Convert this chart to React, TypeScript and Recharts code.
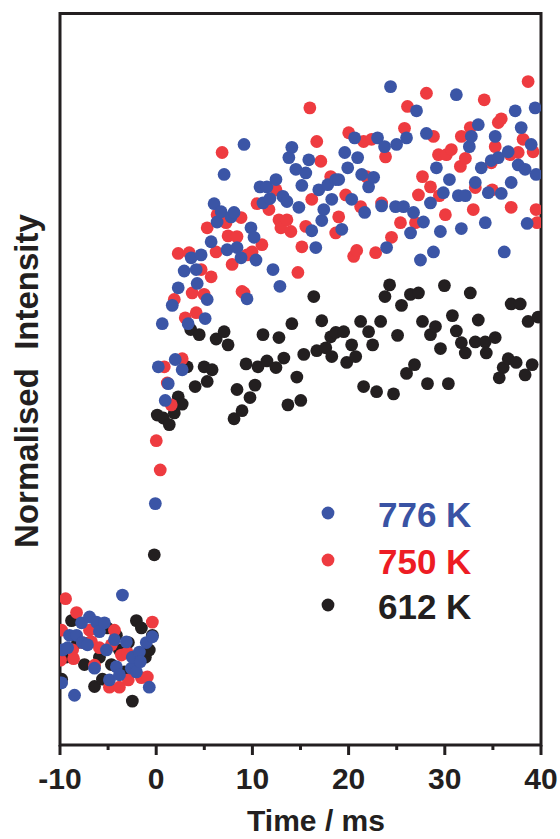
import React from 'react';
import { ScatterChart, Scatter, XAxis, YAxis, ReferenceArea, Legend } from 'recharts';

// Time (ms), normalised intensity
const K612: [number, number][] = [
  [-9.83,0.09],[-9.42,0.12],[-8.80,0.17],[-8.18,0.14],[-7.46,0.11],[-6.93,0.14],[-6.41,0.08],[-5.90,0.12],[-5.59,0.09],[-5.07,0.16],[-4.66,0.11],[-4.14,0.15],[-3.83,0.13],[-3.31,0.10],[-2.89,0.14],[-2.48,0.06],[-2.06,0.17],[-1.54,0.16],[-1.13,0.12],[-0.72,0.13],[-0.40,0.15],[-0.20,0.26],
  [0.11,0.451],[0.74,0.447],[1.36,0.438],[1.88,0.454],[2.29,0.476],[2.70,0.466],[3.22,0.517],[3.59,0.568],[4.05,0.490],[4.47,0.561],[4.98,0.517],[5.30,0.497],[5.81,0.513],[6.23,0.555],[7.06,0.565],[7.47,0.547],
  [8.09,0.446],[8.40,0.486],[8.92,0.457],[9.34,0.521],[9.75,0.475],[10.27,0.492],[10.58,0.517],[11.10,0.561],[11.51,0.525],[12.45,0.516],[12.76,0.557],[13.27,0.529],[13.69,0.465],[14.10,0.576],[14.62,0.503],[15.03,0.471],[15.34,0.534],
  [16.38,0.613],[16.69,0.539],[17.21,0.580],[17.63,0.543],[18.14,0.558],[18.25,0.531],[18.67,0.564],[19.49,0.565],[19.80,0.523],[20.32,0.547],[20.74,0.531],[21.25,0.579],[21.56,0.490],[22.08,0.565],[22.50,0.547],[22.91,0.483],
  [23.33,0.579],[23.78,0.613],[24.26,0.629],[24.67,0.480],[25.09,0.560],[25.50,0.601],[26.02,0.508],[26.43,0.616],[26.85,0.520],[27.26,0.618],[27.68,0.579],[28.20,0.494],[28.51,0.561],[29.03,0.572],[29.55,0.542],[29.96,0.628],
  [30.37,0.494],[30.79,0.587],[31.20,0.566],[31.72,0.550],[32.13,0.536],[32.65,0.618],[33.17,0.551],[33.48,0.581],[34.20,0.551],[34.31,0.536],[35.24,0.557],[35.66,0.502],[36.07,0.516],[36.59,0.528],[36.90,0.603],[37.42,0.523],
  [37.84,0.603],[38.35,0.506],[38.66,0.579],[39.08,0.520],[39.70,0.585]
];

const K750: [number, number][] = [
  [-9.95,0.116],[-9.83,0.157],[-9.42,0.200],[-8.69,0.130],[-8.59,0.118],[-8.28,0.181],[-7.66,0.140],[-6.93,0.157],[-6.73,0.141],[-6.41,0.109],[-5.90,0.133],[-4.86,0.079],[-4.66,0.137],[-4.34,0.157],[-3.83,0.079],[-3.62,0.123],[-3.00,0.126],[-2.90,0.089],[-1.54,0.092],[-0.92,0.093],[-0.40,0.168],
  [0.01,0.416],[0.42,0.376],[0.84,0.517],[1.15,0.495],[1.56,0.465],[1.88,0.609],[2.29,0.672],[2.70,0.528],[3.02,0.584],[3.43,0.673],[3.74,0.618],[4.16,0.591],[4.67,0.650],[4.98,0.616],[5.30,0.707],[5.71,0.640],
  [6.23,0.674],[6.33,0.725],[6.85,0.810],[7.26,0.714],[7.47,0.696],[7.89,0.657],[8.40,0.695],[8.82,0.721],[8.92,0.620],[9.13,0.618],[9.44,0.670],[9.96,0.674],[10.48,0.740],[10.99,0.684],[11.72,0.732],[12.45,0.759],
  [12.76,0.718],[12.96,0.707],[13.59,0.718],[14.00,0.702],[14.73,0.646],[15.14,0.681],[15.55,0.709],[15.97,0.871],[16.17,0.746],[16.69,0.825],[17.11,0.798],[18.14,0.777],[18.66,0.700],[18.97,0.722],[19.70,0.752],[20.01,0.837],
  [20.53,0.668],[20.84,0.676],[21.25,0.736],[21.56,0.825],[21.87,0.777],[22.39,0.828],[22.81,0.673],[23.43,0.741],[23.84,0.804],[24.46,0.694],[25.39,0.714],[25.81,0.843],[26.12,0.873],[26.95,0.714],[27.26,0.752],[27.68,0.777],
  [28.09,0.891],[28.51,0.763],[28.82,0.832],[29.34,0.807],[29.44,0.751],[30.06,0.725],[30.17,0.807],[30.68,0.814],[31.62,0.791],[31.72,0.832],[32.14,0.802],[32.65,0.844],[32.96,0.732],[33.17,0.762],[34.10,0.882],[34.83,0.796],
  [34.93,0.759],[35.24,0.818],[35.56,0.851],[35.87,0.856],[36.80,0.807],[36.90,0.735],[37.63,0.810],[38.14,0.828],[38.66,0.907],[39.18,0.811],[39.49,0.732],[39.59,0.714]
];

const K776: [number, number][] = [
  [-9.83,0.085],[-9.73,0.130],[-9.21,0.133],[-9.01,0.150],[-8.49,0.068],[-8.28,0.150],[-7.76,0.167],[-7.66,0.140],[-7.14,0.137],[-6.93,0.175],[-6.41,0.105],[-6.21,0.168],[-5.90,0.155],[-5.38,0.167],[-5.17,0.130],[-4.86,0.089],[-4.34,0.144],[-4.14,0.107],[-3.82,0.096],[-3.51,0.205],[-3.10,0.141],[-2.58,0.105],[-2.48,0.120],[-2.06,0.100],[-1.75,0.127],[-1.65,0.114],[-1.03,0.140],[-0.72,0.079],[-0.40,0.148],
  [-0.09,0.330],[0.22,0.517],[0.63,0.576],[0.94,0.471],[1.25,0.494],[1.67,0.601],[1.98,0.527],[2.29,0.625],[2.70,0.513],[2.91,0.648],[3.32,0.576],[3.64,0.666],[4.16,0.650],[4.26,0.631],[4.67,0.670],[5.09,0.583],[5.30,0.609],
  [5.71,0.688],[6.02,0.740],[6.33,0.715],[6.75,0.729],[7.06,0.780],[7.37,0.677],[7.78,0.722],[8.09,0.728],[8.40,0.680],[8.82,0.666],[9.13,0.821],[9.44,0.610],[9.85,0.707],[10.17,0.694],[10.37,0.663],[10.79,0.763],
  [11.10,0.741],[11.51,0.763],[11.82,0.747],[12.14,0.650],[12.45,0.773],[12.86,0.627],[13.17,0.750],[13.59,0.743],[13.79,0.803],[14.10,0.817],[14.52,0.787],[14.83,0.735],[15.14,0.765],[15.55,0.782],[15.86,0.800],[16.17,0.703],
  [16.59,0.680],[16.90,0.759],[17.21,0.717],[17.42,0.732],[17.83,0.766],[18.25,0.746],[18.66,0.773],[18.97,0.773],[19.29,0.705],[19.60,0.810],[19.91,0.789],[20.32,0.746],[20.63,0.830],[20.94,0.803],[21.36,0.780],[21.67,0.728],
  [22.08,0.763],[22.60,0.776],[23.01,0.830],[23.43,0.737],[23.74,0.818],[23.95,0.680],[24.36,0.900],[24.88,0.736],[24.99,0.821],[25.71,0.736],[26.02,0.830],[26.44,0.700],[26.75,0.728],[27.06,0.867],[27.47,0.663],[27.78,0.715],
  [28.09,0.836],[28.51,0.741],[28.82,0.674],[29.13,0.789],[29.54,0.702],[29.85,0.755],[30.48,0.773],[31.20,0.889],[31.41,0.751],[31.72,0.706],[32.14,0.751],[32.55,0.818],[32.76,0.832],[33.17,0.769],[33.48,0.848],[33.79,0.789],
  [34.21,0.714],[34.52,0.755],[34.83,0.799],[35.24,0.832],[35.56,0.803],[35.87,0.754],[36.18,0.674],[36.59,0.811],[36.90,0.769],[37.32,0.867],[37.63,0.793],[37.94,0.844],[38.35,0.787],[38.56,0.713],[38.98,0.821],[39.39,0.871],[39.49,0.780]
];

const X_TICKS = [-10, -5, 0, 5, 10, 15, 20, 25, 30, 35, 40];
const SERIES_LABELS = ['776 K', '750 K', '612 K'];
const X_TITLE = 'Time / ms';
const Y_TITLE = 'Normalised  Intensity';

const INK = '#231f20';
const BLUE = '#3b55a6';
const RED = '#ee3b40';
const BLUE_TEXT = '#3953a4';
const RED_TEXT = '#ed1c24';
const FONT = '"Liberation Sans", Arial, Helvetica, sans-serif';

const toData = (arr: [number, number][]) => arr.map(([t, v]) => ({ t, v }));

const dot = (color: string) => (props: any) => (
  <circle cx={props.cx} cy={props.cy} r={6.4} fill={color} />
);

const XTick = (props: any) => {
  const { x, y, payload } = props;
  const major = payload.value % 10 === 0;
  return (
    <g>
      <line x1={x} x2={x} y1={y} y2={y + (major ? 10 : 5)} stroke={INK} strokeWidth={3} />
      {major && (
        <text x={x} y={y + 44} textAnchor="middle" fontFamily={FONT} fontWeight="bold" fontSize={30} fill={INK}>
          {payload.value}
        </text>
      )}
    </g>
  );
};

const LegendBox = () => {
  const colors = [BLUE, RED, INK];
  const textColors = [BLUE_TEXT, RED_TEXT, INK];
  const rows = [33, 80, 125];
  return (
    <svg width={200} height={150} style={{ display: 'block' }}>
      {SERIES_LABELS.map((l, i) => (
        <g key={l}>
          <circle cx={28} cy={rows[i]} r={6.4} fill={colors[i]} />
          <text x={78} y={rows[i] + 14} fontFamily={FONT} fontWeight="bold" fontSize={35} fill={textColors[i]}>
            {l}
          </text>
        </g>
      ))}
    </svg>
  );
};

export default function App() {
  return (
    <div style={{ position: 'absolute', left: 0, top: 0, width: 560, height: 839, background: '#fff' }}>
      <ScatterChart width={560} height={839} margin={{ top: 13.5, right: 19, bottom: 0, left: 0 }}>
        <XAxis
          type="number"
          dataKey="t"
          domain={[-10, 40]}
          ticks={X_TICKS}
          interval={0}
          height={94}
          axisLine={false}
          tickLine={false}
          tickSize={0}
          tickMargin={0}
          tick={<XTick />}
          allowDataOverflow
          label={{
            content: () => (
              <text x={316} y={831} textAnchor="middle" fontFamily={FONT} fontWeight="bold" fontSize={30} fill={INK}>
                {X_TITLE}
              </text>
            ),
          }}
        />
        <YAxis
          type="number"
          dataKey="v"
          domain={[0, 1]}
          width={60}
          tick={false}
          axisLine={false}
          tickLine={false}
          allowDataOverflow
          label={{
            content: () => (
              <text
                x={38}
                y={381}
                transform="rotate(-90 38 381)"
                textAnchor="middle"
                fontFamily={FONT}
                fontWeight="bold"
                fontSize={33}
                fill={INK}
                style={{ whiteSpace: 'pre' }}
              >
                {Y_TITLE}
              </text>
            ),
          }}
        />
        <Scatter name="612 K" data={toData(K612)} fill={INK} shape={dot(INK)} isAnimationActive={false} />
        <Scatter name="750 K" data={toData(K750)} fill={RED} shape={dot(RED)} isAnimationActive={false} />
        <Scatter name="776 K" data={toData(K776)} fill={BLUE} shape={dot(BLUE)} isAnimationActive={false} />
        <ReferenceArea x1={-10} x2={40} y1={0} y2={1} fill="none" stroke={INK} strokeWidth={3} strokeOpacity={1} />
        <Legend
          layout="horizontal"
          verticalAlign="middle"
          align="center"
          content={<LegendBox />}
          wrapperStyle={{ left: 300, top: 480, width: 200, height: 150 }}
        />
      </ScatterChart>
    </div>
  );
}
